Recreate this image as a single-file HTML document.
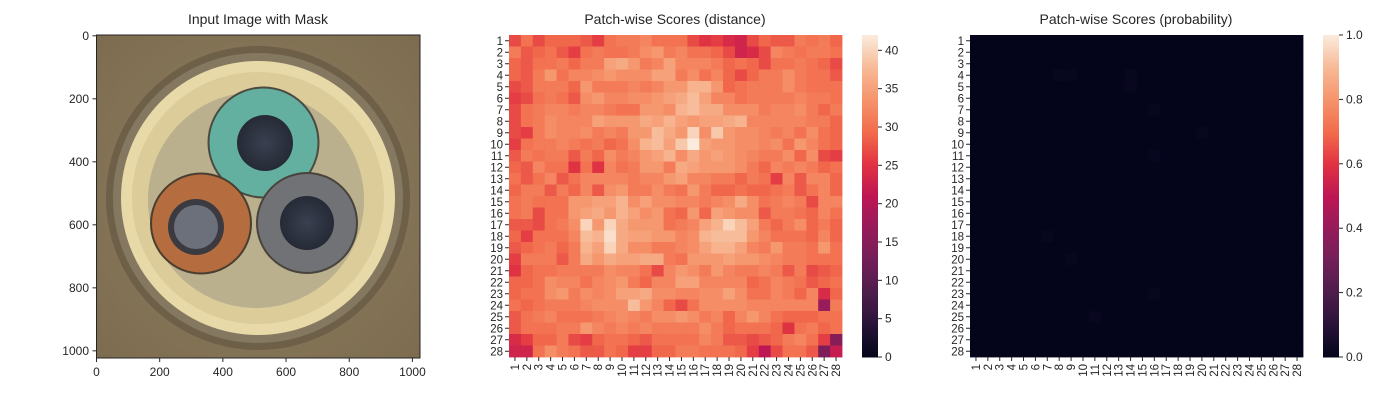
<!DOCTYPE html>
<html><head><meta charset="utf-8">
<style>
html,body{margin:0;padding:0;background:#fff;}
svg text{font-family:"Liberation Sans","DejaVu Sans",sans-serif;fill:#262626;}
</style></head>
<body>
<svg id="fig" width="1400" height="400" viewBox="0 0 1400 400" xmlns="http://www.w3.org/2000/svg">
<defs>
<radialGradient id="bgGrad" cx="50%" cy="50%" r="70%">
<stop offset="0" stop-color="#8f7f5f"/><stop offset="1" stop-color="#7d6c50"/>
</radialGradient>
<radialGradient id="wireG" cx="50%" cy="50%" r="50%">
<stop offset="0" stop-color="#3a4050"/><stop offset="1" stop-color="#252a36"/>
</radialGradient>
</defs>
<g>
<text x="258" y="24" font-size="14" text-anchor="middle">Input Image with Mask</text>
<g>
<rect x="96.5" y="35" width="323.5" height="323" fill="url(#bgGrad)"/>
<circle cx="258" cy="198" r="152" fill="#6e6048"/>
<circle cx="258" cy="198" r="145" fill="#857860"/>
<circle cx="258" cy="198" r="137" fill="#e8d9a8"/>
<circle cx="258" cy="198" r="126" fill="#dccc9a"/>
<circle cx="256" cy="200" r="108" fill="#bab08e"/>
<circle cx="263.5" cy="142.5" r="56" fill="#4a4a40"/>
<circle cx="263.5" cy="142.5" r="54" fill="#64b0a0"/>
<circle cx="265" cy="143" r="28" fill="url(#wireG)"/>
<circle cx="201" cy="223.5" r="51" fill="#4a3e30"/>
<circle cx="201" cy="223.5" r="49" fill="#b56c3e"/>
<circle cx="196" cy="227" r="28" fill="#3a3a40"/>
<circle cx="196" cy="227" r="22" fill="#8e94a2" opacity="0.6"/>
<circle cx="307" cy="223" r="51" fill="#48443c"/>
<circle cx="307" cy="223" r="49" fill="#707276"/>
<circle cx="307" cy="223" r="27" fill="url(#wireG)"/>
</g>
<rect x="96.5" y="35" width="323.5" height="323" fill="none" stroke="#262626" stroke-width="1"/>
<g id="imgTicks"></g>
</g>
<g id="hm1">
<text x="675" y="24" font-size="14" text-anchor="middle">Patch-wise Scores (distance)</text>
</g>
<g id="hm2">
<text x="1136" y="24" font-size="14" text-anchor="middle">Patch-wise Scores (probability)</text>
</g>
</svg>
<script>
const imgTickValues=[0,200,400,600,800,1000];
const distRows=[
[27,30,27,29,29,29,28,26,30,31,31,32,30,30,30,27,25,26,24,23,27,29,28,28,31,30,31,29],
[31,28,29,30,28,26,30,31,30,30,31,33,34,31,32,30,30,29,27,23,24,27,32,31,30,31,31,30],
[29,28,30,30,31,29,31,31,35,36,34,31,32,35,32,32,32,31,29,30,29,27,30,30,31,30,29,27],
[29,28,31,34,30,32,32,33,34,33,33,33,35,35,31,33,30,32,29,27,29,31,31,33,31,30,30,28],
[27,28,31,31,31,29,34,31,31,31,32,31,32,34,34,37,37,34,29,30,31,31,31,33,31,30,30,30],
[26,27,30,31,30,28,33,34,32,32,33,33,34,35,36,38,35,32,32,30,31,31,31,31,32,31,31,30],
[27,30,31,32,32,31,32,32,31,30,30,34,34,33,37,38,36,36,33,33,33,31,32,32,33,31,29,31],
[27,30,31,33,32,32,32,35,34,34,34,36,35,37,35,34,35,35,36,37,32,32,32,32,32,31,31,29],
[27,26,31,33,32,32,33,31,32,31,34,34,38,36,34,40,33,39,34,33,33,32,31,32,30,33,30,29],
[26,30,31,31,32,31,30,31,29,30,33,37,38,35,39,42,35,34,34,33,33,32,33,30,34,32,30,29],
[28,31,30,31,31,28,31,29,33,31,32,34,35,37,33,36,34,35,34,33,32,31,31,33,29,33,27,26],
[29,28,32,30,30,25,30,25,32,30,31,34,34,31,36,35,34,34,34,33,31,29,32,31,32,31,29,30],
[30,28,30,32,28,30,32,32,32,32,31,32,32,34,35,32,32,31,31,29,31,30,26,32,28,32,32,29],
[29,31,31,28,31,29,32,28,33,34,31,31,33,31,30,34,31,29,29,30,29,29,30,31,28,30,32,29],
[30,31,30,30,30,34,34,35,35,37,33,35,33,33,32,32,31,32,33,36,33,30,31,32,31,27,32,32],
[30,31,27,30,30,34,35,36,34,37,35,33,34,30,29,34,29,35,34,33,33,28,31,31,30,29,32,30],
[28,28,27,30,31,33,40,34,40,36,34,34,34,30,31,32,35,37,40,38,35,31,29,31,33,29,31,29],
[29,26,30,30,30,32,38,37,41,36,35,35,34,34,32,33,37,38,38,38,34,32,30,30,30,29,32,29],
[28,29,30,31,29,31,37,35,40,36,33,33,31,31,32,33,35,37,37,35,32,31,34,31,31,30,34,30],
[26,31,31,31,28,31,36,34,36,35,35,36,36,31,30,34,34,34,35,34,34,33,32,31,31,30,30,30],
[25,29,30,30,31,31,31,31,33,32,32,30,27,32,34,33,31,34,32,31,31,32,31,28,31,27,28,29],
[29,29,30,33,32,32,30,32,33,34,31,29,32,32,35,35,32,32,32,32,29,30,32,31,30,28,29,30],
[29,30,30,33,34,31,33,32,33,35,35,36,33,33,32,32,33,33,35,33,30,30,32,31,29,32,24,29],
[30,29,30,31,31,31,32,33,33,33,38,34,32,29,27,30,33,33,33,33,32,32,32,32,32,32,17,31],
[28,30,31,32,30,30,30,31,32,33,32,31,33,33,34,33,31,32,29,32,34,32,30,29,29,29,30,30],
[28,30,30,30,31,31,34,32,31,32,31,32,31,31,31,31,33,31,29,30,30,30,29,25,30,31,29,30],
[24,26,29,29,31,27,26,29,30,30,29,28,30,30,30,30,32,31,28,28,27,28,29,31,32,30,26,15],
[23,23,30,33,31,30,28,28,30,29,26,26,29,29,31,31,30,30,30,29,26,21,27,30,30,28,14,22]
];
const probHot=[[3,7,0.012],[3,8,0.012],[4,13,0.015],[3,13,0.012],[6,15,0.012],[8,19,0.012],[10,15,0.015],[17,6,0.012],[19,8,0.012],[22,15,0.012],[24,10,0.015]];
const distTicks=[0,5,10,15,20,25,30,35,40];
const probTicks=[0,0.2,0.4,0.6,0.8,1.0];
const rowLabels=Array.from({length:28},(_,i)=>String(i+1));

const NS="http://www.w3.org/2000/svg";
const rocket=[[0,[3,5,26]],[0.1,[40,19,56]],[0.2,[76,29,75]],[0.3,[113,31,87]],[0.4,[150,28,91]],[0.5,[190,22,84]],[0.6,[225,51,66]],[0.7,[242,108,76]],[0.8,[245,148,108]],[0.9,[247,186,150]],[1,[250,235,221]]];
function cmap(t){t=Math.max(0,Math.min(1,t));for(let i=1;i<rocket.length;i++){if(t<=rocket[i][0]){const a=rocket[i-1],b=rocket[i];const f=(t-a[0])/(b[0]-a[0]);const c=a[1].map((v,k)=>Math.round(v+(b[1][k]-v)*f));return `rgb(${c[0]},${c[1]},${c[2]})`;}}return 'rgb(250,235,221)';}
function mk(tag,attrs,parent){const e=document.createElementNS(NS,tag);for(const k in attrs)e.setAttribute(k,attrs[k]);parent.appendChild(e);return e;}

const it=document.getElementById('imgTicks');
const imgX=v=>96.5+v*323.5/1024, imgY=v=>35.8+v*322.6/1024;
imgTickValues.forEach(v=>{
 mk('line',{x1:imgX(v),x2:imgX(v),y1:358,y2:362,stroke:'#262626'},it);
 const tx=mk('text',{x:imgX(v),y:376,'font-size':12,'text-anchor':'middle'},it);tx.textContent=v;
 
 
 mk('line',{x1:92.5,x2:96.5,y1:imgY(v),y2:imgY(v),stroke:'#262626'},it);
 const ty=mk('text',{x:89,y:imgY(v)+4,'font-size':12,'text-anchor':'end'},it);ty.textContent=v;
 
 
});

function heatmap(gid,x0,values,vmax,cbx,ticks,fmt){
 const g=document.getElementById(gid);
 const W=333,H=322,y0=35,n=28,cw=W/n,ch=H/n;
 const xs=i=>x0+i*cw, ys=j=>y0+j*ch;
 for(let r=0;r<n;r++)for(let c=0;c<n;c++){
  const cell=mk('rect',{x:xs(c),y:ys(r),width:cw+0.4,height:ch+0.4,fill:cmap(values[r][c]/vmax)},g);
  
  
 }
 rowLabels.forEach((lab,i)=>{
  mk('line',{x1:x0-4,x2:x0,y1:ys(i)+ch/2,y2:ys(i)+ch/2,stroke:'#262626'},g);
  const t=mk('text',{x:x0-6,y:ys(i)+ch/2+4,'font-size':11.5,'text-anchor':'end'},g);t.textContent=lab;
  
  
  const cx=xs(i)+cw/2;
  mk('line',{x1:cx,x2:cx,y1:357,y2:361,stroke:'#262626'},g);
  const t2=mk('text',{x:cx+4,y:364,'font-size':11.5,'text-anchor':'end',transform:`rotate(-90 ${cx+4} 364)`},g);t2.textContent=lab;
  
  
 });
 const cb=mk('g',{},g);
 
 
 const steps=120;
 for(let s=0;s<steps;s++){mk('rect',{x:cbx,y:y0+H-(s+1)*H/steps,width:16,height:H/steps+0.5,fill:cmap((s+0.5)/steps)},cb);}
 const cy=v=>y0+H-v/vmax*H;
 ticks.forEach(v=>{
  mk('line',{x1:cbx+16,x2:cbx+20,y1:cy(v),y2:cy(v),stroke:'#262626'},cb);
  const t=mk('text',{x:cbx+23,y:cy(v)+4,'font-size':12},cb);t.textContent=fmt(v);
  
  
 });
}
heatmap('hm1',509,distRows,42,862,distTicks,v=>String(v));
const probRows=Array.from({length:28},()=>Array(28).fill(0.003));
probHot.forEach(([r,c,v])=>{probRows[r][c]=v;});
heatmap('hm2',970,probRows,1,1323,probTicks,v=>v.toFixed(1));
</script>
</body></html>
